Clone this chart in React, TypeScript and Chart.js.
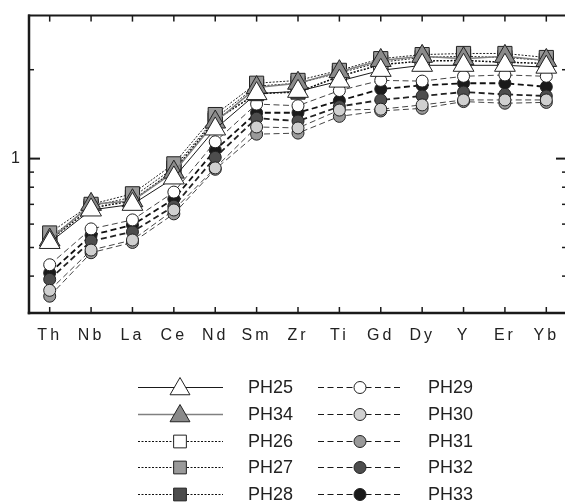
import React, { useEffect, useRef } from 'react';
import { Chart, registerables } from 'chart.js';

Chart.register(...registerables);

const categories = ['Th', 'Nb', 'La', 'Ce', 'Nd', 'Sm', 'Zr', 'Ti', 'Gd', 'Dy', 'Y', 'Er', 'Yb'];

const PH25 = [0.52, 0.67, 0.70, 0.86, 1.26, 1.66, 1.69, 1.83, 1.99, 2.07, 2.07, 2.07, 2.04];
const PH34 = [0.53, 0.70, 0.72, 0.90, 1.33, 1.74, 1.80, 1.97, 2.15, 2.22, 2.18, 2.22, 2.15];
const PH26 = [0.54, 0.69, 0.74, 0.93, 1.37, 1.76, 1.80, 1.95, 2.12, 2.20, 2.22, 2.20, 2.15];
const PH27 = [0.56, 0.70, 0.76, 0.96, 1.41, 1.80, 1.84, 1.99, 2.18, 2.25, 2.27, 2.27, 2.20];
const PH28 = [0.53, 0.68, 0.72, 0.91, 1.35, 1.66, 1.68, 1.90, 2.08, 2.14, 2.15, 2.12, 2.10];
const PH29 = [0.437, 0.578, 0.62, 0.77, 1.14, 1.53, 1.51, 1.70, 1.84, 1.83, 1.90, 1.92, 1.90];
const PH30 = [0.358, 0.49, 0.53, 0.67, 0.93, 1.28, 1.27, 1.46, 1.47, 1.52, 1.58, 1.58, 1.58];
const PH31 = [0.342, 0.48, 0.52, 0.65, 0.92, 1.21, 1.22, 1.39, 1.45, 1.48, 1.56, 1.54, 1.55];
const PH32 = [0.39, 0.526, 0.565, 0.69, 1.01, 1.37, 1.34, 1.50, 1.58, 1.63, 1.68, 1.65, 1.63];
const PH33 = [0.41, 0.55, 0.596, 0.73, 1.07, 1.43, 1.43, 1.57, 1.72, 1.77, 1.80, 1.80, 1.75];

const yTickValues = [0.4, 0.5, 0.6, 0.7, 0.8, 0.9, 1, 2];
const yLabelledValue = 1;

type Marker = 'triangle' | 'rect' | 'circle';
interface Series {
  label: string;
  data: number[];
  marker: Marker;
  fill: string;
  lineColor: string;
  lineWidth: number;
  legendLineColor: string;
  legendLineWidth: number;
  dash: number[];
  radius: number;
  order: number;
}

const DOT = [2, 1.5];
const DASH = [6, 3.5];

const series: Series[] = [
  { label: 'PH25', data: PH25, marker: 'triangle', fill: '#ffffff', lineColor: '#1a1a1a', lineWidth: 1, legendLineColor: '#1a1a1a', legendLineWidth: 1, dash: [], radius: 12, order: 0 },
  { label: 'PH34', data: PH34, marker: 'triangle', fill: '#8a8a8a', lineColor: '#808080', lineWidth: 1.5, legendLineColor: '#808080', legendLineWidth: 1.5, dash: [], radius: 12, order: 1 },
  { label: 'PH26', data: PH26, marker: 'rect', fill: '#ffffff', lineColor: '#222222', lineWidth: 1, legendLineColor: '#111111', legendLineWidth: 1, dash: DOT, radius: 10, order: 3 },
  { label: 'PH27', data: PH27, marker: 'rect', fill: '#9a9a9a', lineColor: '#222222', lineWidth: 1, legendLineColor: '#111111', legendLineWidth: 1, dash: DOT, radius: 10, order: 2 },
  { label: 'PH28', data: PH28, marker: 'rect', fill: '#4d4d4d', lineColor: '#111111', lineWidth: 1.5, legendLineColor: '#111111', legendLineWidth: 1, dash: DOT, radius: 10, order: 4 },
  { label: 'PH29', data: PH29, marker: 'circle', fill: '#ffffff', lineColor: '#444444', lineWidth: 1, legendLineColor: '#1a1a1a', legendLineWidth: 1.2, dash: DASH, radius: 6, order: 5 },
  { label: 'PH30', data: PH30, marker: 'circle', fill: '#d0d0d0', lineColor: '#444444', lineWidth: 1, legendLineColor: '#1a1a1a', legendLineWidth: 1.2, dash: DASH, radius: 6, order: 6 },
  { label: 'PH31', data: PH31, marker: 'circle', fill: '#9a9a9a', lineColor: '#444444', lineWidth: 1, legendLineColor: '#1a1a1a', legendLineWidth: 1.2, dash: DASH, radius: 6, order: 9 },
  { label: 'PH32', data: PH32, marker: 'circle', fill: '#4d4d4d', lineColor: '#222222', lineWidth: 1.8, legendLineColor: '#1a1a1a', legendLineWidth: 1.2, dash: DASH, radius: 6, order: 7 },
  { label: 'PH33', data: PH33, marker: 'circle', fill: '#1a1a1a', lineColor: '#111111', lineWidth: 1.8, legendLineColor: '#1a1a1a', legendLineWidth: 1.2, dash: DASH, radius: 6, order: 8 },
];

const FONT_FAMILY = '"Liberation Sans", Arial, sans-serif';

function drawMarker(ctx: CanvasRenderingContext2D, m: Marker, x: number, y: number, r: number, fill: string) {
  ctx.save();
  ctx.setLineDash([]);
  ctx.lineWidth = 1;
  ctx.strokeStyle = '#222222';
  ctx.fillStyle = fill;
  ctx.beginPath();
  if (m === 'triangle') {
    for (let k = 0; k < 3; k++) {
      const a = (k * 2 * Math.PI) / 3;
      const px = x + Math.sin(a) * r;
      const py = y - Math.cos(a) * r;
      if (k === 0) ctx.moveTo(px, py);
      else ctx.lineTo(px, py);
    }
    ctx.closePath();
  } else if (m === 'rect') {
    const s = Math.SQRT1_2 * r;
    ctx.rect(x - s, y - s, 2 * s, 2 * s);
  } else {
    ctx.arc(x, y, r, 0, Math.PI * 2);
  }
  ctx.fill();
  ctx.stroke();
  ctx.restore();
}

const framePlugin = {
  id: 'framePlugin',
  beforeDraw(chart: any) {
    (chart.ctx as any).letterSpacing = '3px';
  },
  beforeDatasetsDraw(chart: any) {
    (chart.ctx as any).letterSpacing = '0px';
  },
  afterDraw(chart: any) {
    const ctx: CanvasRenderingContext2D = chart.ctx;
    (ctx as any).letterSpacing = '0px';
    const { left, right, top, bottom } = chart.chartArea;
    const xs = chart.scales.x;
    const ys = chart.scales.y;
    ctx.save();
    ctx.strokeStyle = '#1a1a1a';
    ctx.setLineDash([]);
    const line = (x1: number, y1: number, x2: number, y2: number) => {
      ctx.beginPath();
      ctx.moveTo(x1, y1);
      ctx.lineTo(x2, y2);
      ctx.stroke();
    };
    ctx.lineWidth = 2;
    line(left - 1, top, right + 2, top);
    ctx.lineWidth = 2.5;
    line(left, top - 1, left, bottom + 1.25);
    line(left - 1.25, bottom, right + 2, bottom);
    line(right, top - 1, right, bottom + 1.25);
    ctx.lineWidth = 1.5;
    for (let i = 0; i < categories.length; i++) {
      const px = xs.getPixelForValue(i);
      line(px, top, px, top + 6);
      line(px, bottom, px, bottom - 6);
    }
    for (const t of ys.ticks) {
      const py = ys.getPixelForValue(t.value);
      const len = t.value === yLabelledValue ? 11 : 5;
      ctx.lineWidth = t.value === yLabelledValue ? 2 : 1.5;
      line(left, py, left + len, py);
      line(right, py, right - len, py);
    }
    ctx.restore();

    // legend (two columns, column-major)
    const rowY0 = 387;
    const rowDy = 26.8;
    const cols = [
      { lx1: 138, lx2: 223, mx: 180, tx: 248 },
      { lx1: 318, lx2: 402, mx: 360, tx: 428 },
    ];
    series.forEach((s, idx) => {
      const col = cols[Math.floor(idx / 5)];
      const y = Math.round(rowY0 + (idx % 5) * rowDy);
      ctx.save();
      ctx.strokeStyle = s.legendLineColor;
      ctx.lineWidth = s.legendLineWidth;
      ctx.setLineDash(s.dash);
      ctx.beginPath();
      ctx.moveTo(col.lx1, y + 0.5);
      ctx.lineTo(col.lx2, y + 0.5);
      ctx.stroke();
      ctx.restore();
      const lr = s.marker === 'triangle' ? 11.5 : s.marker === 'rect' ? 9 : 6;
      drawMarker(ctx, s.marker, col.mx, s.marker === 'triangle' ? y + 2 : y + 0.5, lr, s.fill);
      ctx.save();
      ctx.fillStyle = '#222222';
      ctx.font = `18px ${FONT_FAMILY}`;
      ctx.textBaseline = 'middle';
      ctx.textAlign = 'left';
      ctx.fillText(s.label, col.tx, y + 1);
      ctx.restore();
    });
  },
};

export default function App() {
  const ref = useRef<HTMLCanvasElement | null>(null);
  useEffect(() => {
    if (!ref.current) return;
    const chart = new Chart(ref.current, {
      type: 'line',
      data: {
        labels: categories,
        datasets: series.map((s) => ({
          label: s.label,
          data: s.data,
          order: s.order,
          borderColor: s.lineColor,
          borderWidth: s.lineWidth,
          borderDash: s.dash,
          tension: 0,
          fill: false,
          pointStyle: s.marker,
          pointRadius: s.radius,
          pointHoverRadius: s.radius,
          pointBackgroundColor: s.fill,
          pointBorderColor: '#222222',
          pointBorderWidth: 1,
        })),
      },
      options: {
        animation: false,
        responsive: false,
        devicePixelRatio: 1,
        layout: { padding: { top: 12, right: 11, left: 0, bottom: 0 } },
        plugins: { legend: { display: false }, tooltip: { enabled: false } },
        scales: {
          x: {
            type: 'category',
            offset: true,
            grid: { display: false, drawTicks: false },
            border: { display: false },
            ticks: {
              font: { family: FONT_FAMILY, size: 16 },
              color: '#222222',
              padding: 13,
              maxRotation: 0,
              minRotation: 0,
              autoSkip: false,
            },
            afterFit(s: any) {
              s.height = 191;
            },
          },
          y: {
            type: 'logarithmic',
            min: 0.3,
            max: 3.05,
            grid: { display: false, drawTicks: false },
            border: { display: false },
            afterBuildTicks(s: any) {
              s.ticks = yTickValues.map((v) => ({ value: v }));
            },
            ticks: {
              callback: (v: any) => (Number(v) === yLabelledValue ? String(yLabelledValue) : ''),
              font: { family: FONT_FAMILY, size: 16 },
              color: '#222222',
              padding: 6,
            },
            afterFit(s: any) {
              s.width = 29;
            },
          },
        },
      },
      plugins: [framePlugin],
    } as any);
    return () => chart.destroy();
  }, []);

  return (
    <div style={{ position: 'fixed', left: 0, top: 0, width: 565, height: 504, overflow: 'hidden', background: '#ffffff' }}>
      <canvas ref={ref} width={580} height={504} style={{ width: 580, height: 504, display: 'block' }} />
    </div>
  );
}
